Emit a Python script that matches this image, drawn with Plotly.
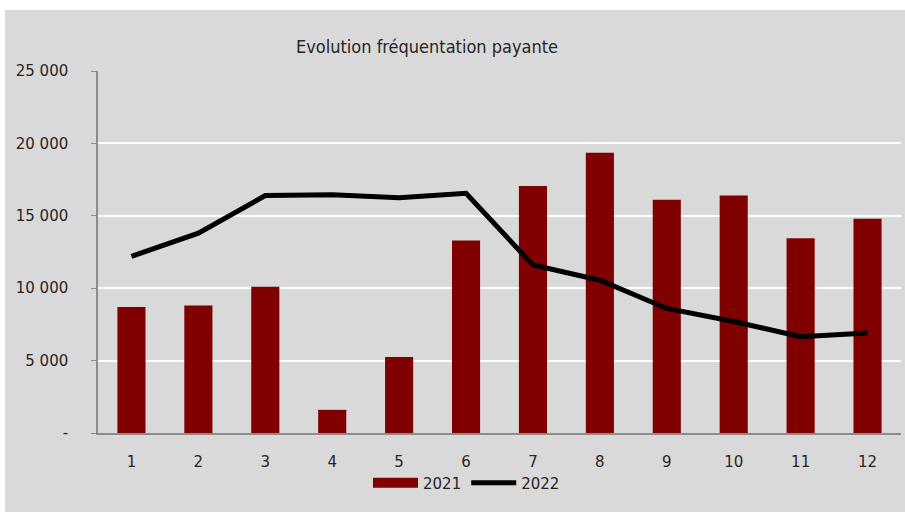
import plotly.graph_objects as go

months = [str(i) for i in range(1, 13)]
visits_2021 = [8700, 8800, 10100, 1600, 5250, 13300, 17050, 19350, 16100, 16400, 13450, 14800]
visits_2022 = [12200, 13800, 16400, 16450, 16250, 16550, 11600, 10550, 8600, 7700, 6650, 6900]
y_tickvals = [0, 5000, 10000, 15000, 20000, 25000]
y_ticktext = ["-", "5 000", "10 000", "15 000", "20 000", "25 000"]

BG = "#d9d9d9"
TXT = "#262626"
TICKFONT = "DejaVu Sans, sans-serif"
TITLEFONT = "Liberation Sans Narrow, DejaVu Sans Condensed, sans-serif"

fig = go.Figure()
fig.add_trace(go.Bar(x=months, y=visits_2021, name="2021", marker=dict(color="#800000", line=dict(width=0)),
                     showlegend=False, legendgroup="2021"))
# legend swatch for 2021 drawn as a thick line
fig.add_trace(go.Scatter(x=[None], y=[None], mode="lines", name="2021", legendgroup="2021",
                         line=dict(color="#800000", width=12)))
fig.add_trace(go.Scatter(x=months, y=visits_2022, name="2022", mode="lines",
                         line=dict(color="#000000", width=5)))

fig.update_layout(
    width=905, height=512,
    margin=dict(l=98, r=4, t=71, b=79),
    paper_bgcolor="white",
    plot_bgcolor="rgba(0,0,0,0)",
    bargap=0.58,
    shapes=[dict(type="rect", xref="paper", yref="paper", x0=-93/803, x1=1.01, y0=-79/362, y1=1+61/362,
                 fillcolor=BG, line=dict(width=0), layer="below")],
    annotations=[dict(text="Evolution fréquentation payante", xref="paper", yref="paper",
                      x=(427-98)/803, y=1+24/362, xanchor="center", yanchor="middle", showarrow=False,
                      font=dict(family=TITLEFONT, size=18, color=TXT))],
    legend=dict(orientation="h", x=(368-98)/803, y=-50/362, xanchor="left", yanchor="middle",
                bgcolor="rgba(0,0,0,0)", font=dict(family=TICKFONT, size=15, color=TXT),
                itemwidth=45, traceorder="normal"),
    xaxis=dict(showgrid=False, showline=True, linecolor="#8c8c8c", linewidth=2, ticks="",
               tickfont=dict(family=TICKFONT, size=15, color=TXT), ticklabelstandoff=14),
    yaxis=dict(range=[0, 25000], tickvals=y_tickvals, ticktext=y_ticktext, showgrid=True,
               gridcolor="white", gridwidth=2, showline=True, linecolor="#8c8c8c", linewidth=1.5,
               ticks="outside", ticklen=5, tickcolor="#8c8c8c", zeroline=False,
               tickfont=dict(family=TICKFONT, size=15, color=TXT), ticklabelstandoff=20),
)

fig.write_html("out.html", config={"displayModeBar": False},
               post_script="document.body.style.margin='0';")
